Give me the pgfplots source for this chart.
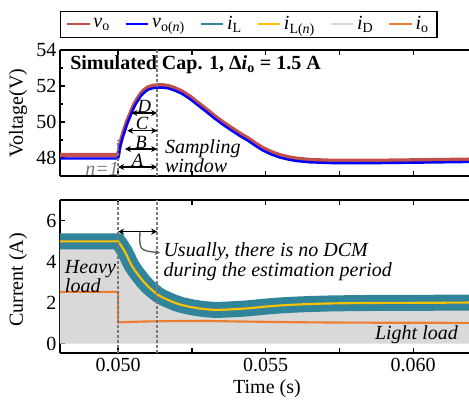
\documentclass[border=0pt]{standalone}
\usepackage{pgfplots}
\pgfplotsset{compat=1.18}
\usepackage{pgfplotstable}
\usepackage{fontspec}
\setmainfont{Liberation Serif}
\usetikzlibrary{arrows.meta}

\definecolor{cvo}{RGB}{192,80,77}
\definecolor{cvon}{RGB}{0,0,255}
\definecolor{ciL}{RGB}{49,133,155}
\definecolor{ciLn}{RGB}{255,192,0}
\definecolor{ciD}{RGB}{217,217,217}
\definecolor{cio}{RGB}{237,125,49}
\definecolor{dashgray}{RGB}{120,120,120}
\definecolor{arrgray}{RGB}{90,90,90}

\newcommand{\fs}{\fontsize{15}{17}\selectfont}

\pgfplotstableread{
t v
0.04803 47.97
0.05000 47.97
0.05003 48.28
0.05006 48.59
0.05014 49.08
0.05023 49.53
0.05031 49.92
0.05040 50.27
0.05048 50.60
0.05057 50.92
0.05068 51.22
0.05079 51.48
0.05090 51.66
0.05102 51.80
0.05118 51.88
0.05136 51.91
0.05152 51.91
0.05169 51.87
0.05190 51.76
0.05215 51.58
0.05243 51.28
0.05271 50.92
0.05300 50.55
0.05328 50.18
0.05356 49.84
0.05384 49.53
0.05412 49.23
0.05441 48.95
0.05465 48.68
0.05490 48.42
0.05520 48.19
0.05549 48.02
0.05580 47.90
0.05605 47.83
0.05650 47.76
0.05717 47.72
0.05800 47.71
0.05900 47.72
0.06000 47.74
0.06100 47.76
0.06189 47.78
}\vblue

\pgfplotstableread{
t v
0.04803 48.16
0.05000 48.16
0.05003 48.41
0.05006 48.72
0.05014 49.21
0.05023 49.66
0.05031 50.05
0.05040 50.40
0.05048 50.73
0.05057 51.05
0.05068 51.35
0.05079 51.61
0.05090 51.79
0.05102 51.93
0.05118 52.01
0.05136 52.04
0.05152 52.04
0.05169 52.00
0.05190 51.89
0.05215 51.71
0.05243 51.41
0.05271 51.05
0.05300 50.68
0.05328 50.31
0.05356 49.97
0.05384 49.66
0.05412 49.36
0.05441 49.08
0.05465 48.81
0.05490 48.55
0.05520 48.32
0.05549 48.15
0.05580 48.03
0.05605 47.96
0.05650 47.89
0.05717 47.85
0.05800 47.84
0.05900 47.85
0.06000 47.87
0.06100 47.89
0.06189 47.91
}\vred

\pgfplotstableread{
t i
0.04803 4.98
0.05000 4.98
0.05010 4.78
0.05023 4.48
0.05034 4.15
0.05045 3.83
0.05056 3.58
0.05068 3.35
0.05085 3.04
0.05102 2.77
0.05120 2.55
0.05136 2.37
0.05152 2.24
0.05169 2.13
0.05190 2.00
0.05215 1.88
0.05243 1.79
0.05271 1.72
0.05300 1.67
0.05328 1.64
0.05356 1.65
0.05384 1.67
0.05412 1.69
0.05441 1.72
0.05470 1.76
0.05497 1.80
0.05550 1.86
0.05600 1.90
0.05650 1.93
0.05729 1.96
0.05850 1.98
0.06068 1.99
0.06189 2.00
}\iL

\pgfplotstableread{
t i
0.04803 0
0.04803 4.98
0.05000 4.98
0.05010 4.78
0.05023 4.48
0.05034 4.15
0.05045 3.83
0.05056 3.58
0.05068 3.35
0.05085 3.04
0.05102 2.77
0.05120 2.55
0.05136 2.37
0.05152 2.24
0.05169 2.13
0.05190 2.00
0.05215 1.88
0.05243 1.79
0.05271 1.72
0.05300 1.67
0.05328 1.64
0.05356 1.65
0.05384 1.67
0.05412 1.69
0.05441 1.72
0.05470 1.76
0.05497 1.80
0.05550 1.86
0.05600 1.90
0.05650 1.93
0.05729 1.96
0.05850 1.98
0.06068 1.99
0.06189 2.00
0.06189 0
}\iD

\pgfplotstableread{
t i
0.04803 2.52
0.05000 2.52
0.05000 1.03
0.05030 1.05
0.05100 1.08
0.05200 1.10
0.05300 1.10
0.05400 1.08
0.05500 1.06
0.05600 1.04
0.05800 1.02
0.06189 1.01
}\io

\tikzset{
  dashv/.style={dashgray, dash pattern=on 2.2pt off 1.5pt, line width=1pt},
  dblarr/.style={{Stealth[length=4.5pt,width=4.5pt]}-{Stealth[length=4.5pt,width=4.5pt]}, line width=1pt},
}

\pgfplotsset{
  mystyle/.style={
    scale only axis, width=306.75pt,
    xmin=0.04803, xmax=0.06189,
    axis x line*=box, axis y line*=left,
    axis line style={line width=1.2pt},
    every tick/.style={line width=1pt, black},
    major tick length=3.75pt, minor tick length=2.25pt,
    tick align=inside,
    xtick={0.05,0.0525,0.055,0.0575,0.06},
    scaled x ticks=false,
    /pgf/number format/assume math mode=true,
    tick label style={font=\fs},
    label style={font=\fs},
    yticklabel style={inner xsep=2.5pt},
  },
}

\begin{document}
\begin{tikzpicture}
\path[use as bounding box] (0,-300pt) rectangle (351.75pt,0pt);

% ---------------- Voltage axis ----------------
\begin{axis}[mystyle,
  at={(45pt,-37.5pt)}, anchor=north west,
  height=94.5pt,
  ymin=47, ymax=54,
  ytick={48,50,52,54}, minor ytick={49,51,53},
  xticklabels={,,,,},
  ylabel={Voltage(V)},
  ylabel style={at={(axis description cs:-0.1027,0.5)}, anchor=center},
  legend columns=6,
  legend style={at={(0,1)}, anchor=south west, yshift=9pt,
    draw=black, line width=1.1pt, font=\fs,
    inner xsep=4pt, inner ysep=2pt,
    /tikz/every even column/.append style={column sep=9pt}},
  legend cell align=left,
]
\addlegendimage{cvo, line width=1.5pt}
\addlegendimage{cvon, line width=1.5pt}
\addlegendimage{ciL, line width=1.5pt}
\addlegendimage{ciLn, line width=1.5pt}
\addlegendimage{ciD, line width=1.5pt}
\addlegendimage{cio, line width=1.5pt}
\legend{\textit{v}\textsubscript{o}, \textit{v}\textsubscript{o(\textit{n})}, \textit{i}\textsubscript{L}, \textit{i}\textsubscript{L(\textit{n})}, \textit{i}\textsubscript{D}, \textit{i}\textsubscript{o}}

\addplot[cvo, line width=3.2pt, forget plot] table[x=t, y=v] {\vred};
\addplot[cvon, line width=1.8pt, forget plot] table[x=t, y=v] {\vblue};

\draw[dashv] (axis cs:0.051322,47) -- (axis cs:0.051322,54);
\draw[dashv] (axis cs:0.05,47) -- (axis cs:0.05,49);

\draw[dblarr] (axis cs:0.05,47.5) -- (axis cs:0.051322,47.5) node[midway, above, inner sep=0pt, font=\fontsize{14}{14}\selectfont\itshape] {A};
\draw[dblarr] (axis cs:0.05023,48.5) -- (axis cs:0.051322,48.5) node[midway, above, inner sep=0pt, font=\fontsize{14}{14}\selectfont\itshape] {B};
\draw[dblarr] (axis cs:0.05031,49.52) -- (axis cs:0.051322,49.52) node[midway, above, inner sep=0pt, font=\fontsize{14}{14}\selectfont\itshape] {C};
\draw[dblarr] (axis cs:0.05045,50.5) -- (axis cs:0.051322,50.5) node[midway, above, inner sep=0pt, font=\fontsize{14}{14}\selectfont\itshape] {D};

\node[anchor=west, align=left, font=\fontsize{15}{11.5}\selectfont\itshape, inner sep=0pt] at (axis cs:0.05158,48.1) {Sampling\\window};
\node[anchor=east, font=\fs\itshape, text=dashgray, inner sep=0pt] at (axis cs:0.05003,47.4) {n=1};
\node[anchor=west, font=\fs\bfseries, inner sep=0pt] at (rel axis cs:0.0245,0.88) {Simulated Cap. 1, Δ\textit{i}\textsubscript{o} = 1.5 A};
\end{axis}

% ---------------- Current axis ----------------
\begin{axis}[mystyle,
  at={(45pt,-150pt)}, anchor=north west,
  height=114.75pt,
  ymin=-0.46, ymax=7.0,
  ytick={0,2,4,6}, minor ytick={1,3,5},
  xticklabels={0.050,,0.055,,0.060},
  ylabel={Current (A)},
  ylabel style={at={(axis description cs:-0.1027,0.477)}, anchor=center},
  xlabel={Time (s)},
  xlabel style={at={(axis description cs:0.506,-0.235)}, anchor=center},
]
\addplot[fill=ciD, draw=none, forget plot] table[x=t, y=i] {\iD};
\addplot[ciL, line width=12pt, forget plot] table[x=t, y=i] {\iL};
\addplot[ciLn, line width=1.6pt, forget plot] table[x=t, y=i] {\iL};
\addplot[cio, line width=1.6pt, forget plot] table[x=t, y=i] {\io};

\draw[dashv] (axis cs:0.05,-0.46) -- (axis cs:0.05,7);
\draw[dashv] (axis cs:0.051322,-0.46) -- (axis cs:0.051322,7);

\draw[dblarr] (axis cs:0.05,5.46) -- (axis cs:0.051322,5.46);
\draw[arrgray, line width=1pt, -{Stealth[length=4pt,width=4pt]}] (axis cs:0.05074,5.46) .. controls (axis cs:0.05072,4.55) .. (axis cs:0.05142,4.42);

\node[anchor=west, align=left, font=\fontsize{15}{12.5}\selectfont\itshape, inner sep=0pt] at (axis cs:0.05153,4.0) {Usually, there is no DCM\\during the estimation period};
\node[anchor=west, align=left, font=\fontsize{15}{11.3}\selectfont\itshape, inner sep=0pt] at (axis cs:0.04819,3.27) {Heavy\\load};
\node[anchor=east, font=\fs\itshape, inner sep=0pt] at (axis cs:0.06152,0.42) {Light load};
\end{axis}
\end{tikzpicture}
\end{document}
